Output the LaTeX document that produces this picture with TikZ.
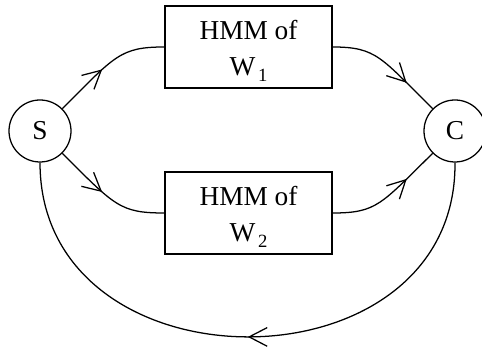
\documentclass[tikz,border=0pt]{standalone}
\usepackage{fontspec}
\setmainfont{Liberation Serif}
\usetikzlibrary{arrows.meta, positioning, decorations.markings}
\newcommand{\sbs}[1]{\kern2pt\raisebox{-4.5pt}{\fontsize{14}{14}\selectfont #1}}
\tikzstyle{state} = [circle, draw=black, line width=0.95pt,
minimum size=46.5pt, inner sep=0pt,
font=\fontsize{20.5}{27}\selectfont]
\tikzstyle{box} = [rectangle,
minimum width=125.25pt,
minimum height=61.5pt,
align=center,
draw=black, line width=0.95pt,
font=\fontsize{20.5}{27}\selectfont]
\tikzstyle{arrow} = [line width=0.95pt, postaction={decorate},
decoration={markings, mark=at position #1 with {\arrow{Straight Barb[length=13.5pt, width=14pt, line width=0.95pt]}}}]

\begin{document}
\begin{tikzpicture}[x=0.75pt, y=0.75pt]

		% Canvas (reference size in px)
		\useasboundingbox (0,0) rectangle (482,348);

		\node[state] (S) at (40,217) {S};
		\node[state] (C) at (455,217) {C};

		\node[box] (h1) at (248.5,301) {\rule{0pt}{20pt}HMM of \\ W\sbs{1}};
		\node[box] (h2) at (248.5,135) {\rule{0pt}{20pt}HMM of \\ W\sbs{2}};

		\draw[arrow=0.45] (S.45) .. controls (115,292) and (120,301) .. (h1.west);
		\draw[arrow=0.7] (h1.east) .. controls (377,301) and (381,290) .. (C.135);

		\draw[arrow=0.45] (S.-45) .. controls (115,142) and (120,135) .. (h2.west);
		\draw[arrow=0.7] (h2.east) .. controls (377,135) and (381,144) .. (C.-135);

		\draw[arrow=0.5] (C.south) .. controls (457,-47) and (40,-47) .. (S.south);

	\end{tikzpicture}
\end{document}
